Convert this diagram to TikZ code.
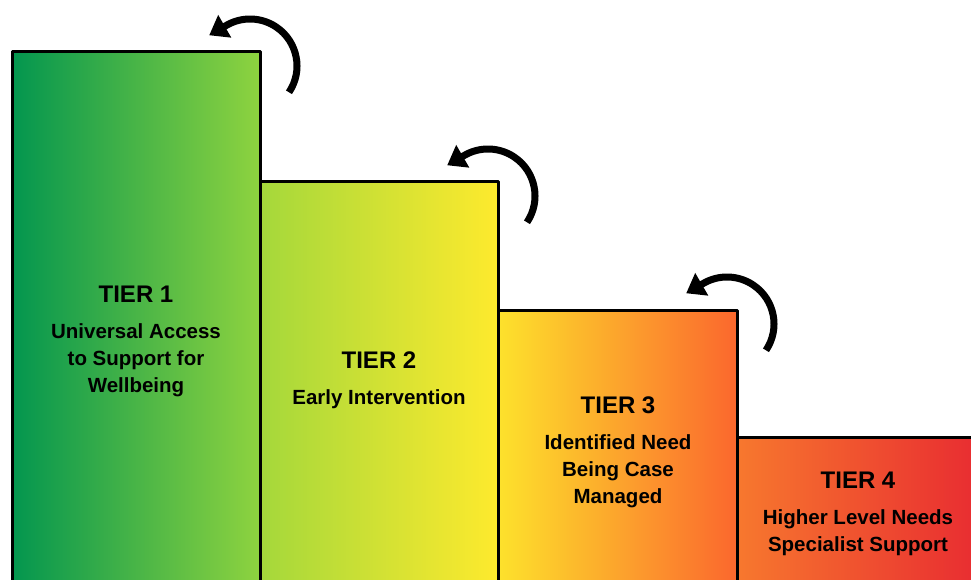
\documentclass[tikz,border=0pt]{standalone}
\usepackage{fontspec}
\setmainfont{Liberation Sans}
\usetikzlibrary{positioning,arrows.meta}
\definecolor{oneleft}   {HTML}{03964F}
\definecolor{oneright}  {HTML}{8ED33F}
\definecolor{twoleft}   {HTML}{A4D83B}
\definecolor{tworight}  {HTML}{FEEA2D}
\definecolor{threeleft} {HTML}{FDE22C}
\definecolor{threeright}{HTML}{FB672D}
\definecolor{fourleft}  {HTML}{F7782E}
\definecolor{fourright} {HTML}{E82A31}

\begin{document}
\begin{tikzpicture}[x=1pt, y=1pt,
  tier/.style={draw=black, line width=3pt, line join=round},
  tiername/.style={inner sep=0pt, font=\fontsize{24}{27}\selectfont\bfseries},
  tierdesc/.style={inner sep=0pt, align=center, font=\fontsize{20.5}{27}\selectfont\bfseries},
  turn/.style={draw=black, line width=7pt, -{Triangle[length=18pt, width=25pt]}}
]
\useasboundingbox (0,0) rectangle (971,-580);
\clip (0,0) rectangle (971,-580);

% the four steps
\shade[left color=oneleft, right color=oneright] (12,-52) rectangle (260,-600);
\shade[left color=twoleft, right color=tworight] (260,-182) rectangle (498,-600);
\shade[left color=threeleft, right color=threeright] (498,-310) rectangle (737,-600);
\shade[left color=fourleft, right color=fourright] (737,-437) rectangle (985,-600);
\draw[tier] (12,-600) rectangle (260,-52);
\draw[tier] (260,-600) rectangle (498,-182);
\draw[tier] (498,-600) rectangle (737,-310);
\draw[tier] (737,-600) rectangle (985,-437);

% curved arrows over each step
\foreach \xr/\yt in {260/52, 498/182, 737/310}
  \draw[turn] (\xr-10,-\yt-14) ++(-34:47) arc[start angle=-34, end angle=120, radius=47] -- ++(210:20);

\node[tiername] (n1) at (136,-294) {TIER 1};
\node[tierdesc, below=21pt of n1] (d1) {Universal Access\\to Support for\\Wellbeing};
\node[tiername] (n2) at (379,-360) {TIER 2};
\node[tierdesc, below=21pt of n2] (d2) {Early Intervention};
\node[tiername] (n3) at (618,-405) {TIER 3};
\node[tierdesc, below=21pt of n3] (d3) {Identified Need\\Being Case\\Managed};
\node[tiername] (n4) at (858,-480) {TIER 4};
\node[tierdesc, below=21pt of n4] (d4) {Higher Level Needs\\Specialist Support};
\end{tikzpicture}
\end{document}
